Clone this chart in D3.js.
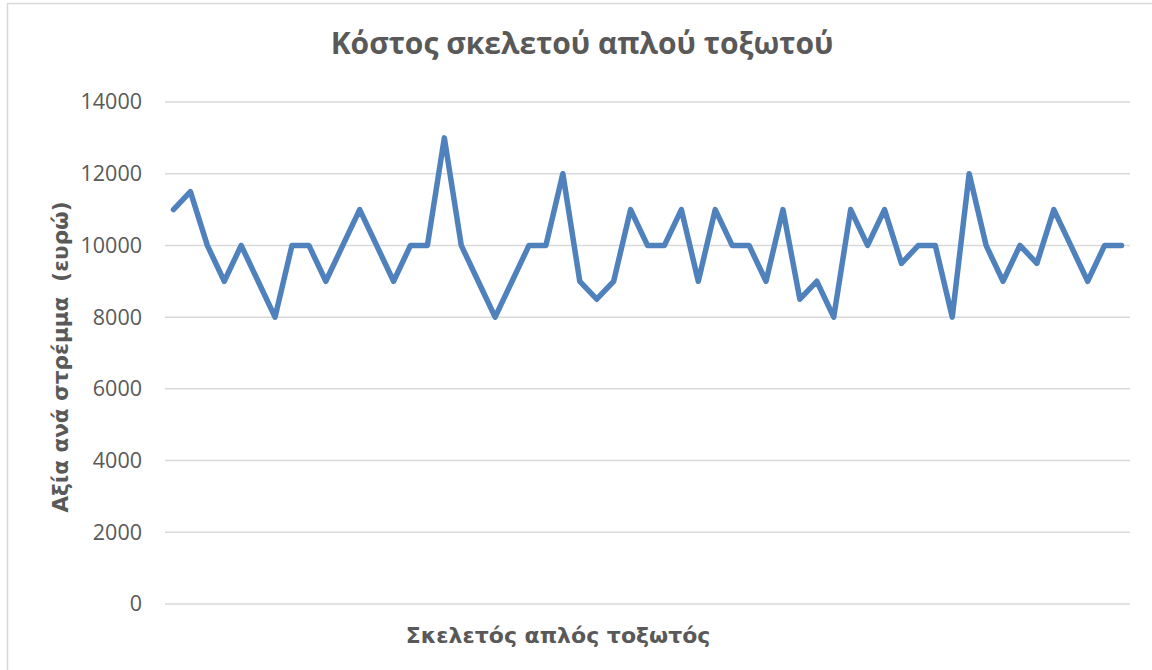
<!DOCTYPE html>
<html>
<head>
<meta charset="utf-8">
<script src="https://cdn.jsdelivr.net/npm/d3@7"></script>
<style>
  html, body { margin: 0; padding: 0; background: #fff; }
  svg { display: block; }
</style>
</head>
<body>
<svg id="chart" width="1152" height="670"></svg>
<script>
// Cost per stremma for each simple arched frame
const values = [
  11000, 11500, 10000, 9000, 10000, 9000, 8000, 10000, 10000, 9000,
  10000, 11000, 10000, 9000, 10000, 10000, 13000, 10000, 9000, 8000,
  9000, 10000, 10000, 12000, 9000, 8500, 9000, 11000, 10000, 10000,
  11000, 9000, 11000, 10000, 10000, 9000, 11000, 8500, 9000, 8000,
  11000, 10000, 11000, 9500, 10000, 10000, 8000, 12000, 10000, 9000,
  10000, 9500, 11000, 10000, 9000, 10000, 10000
];
const categories = values.map((_, i) => i + 1);
const yTicks = [0, 2000, 4000, 6000, 8000, 10000, 12000, 14000];

const titleText = "Κόστος σκελετού απλού τοξωτού";
const xTitleText = "Σκελετός απλός τοξωτός";
const yTitleText = "Αξία ανά στρέμμα\u00a0\u00a0(ευρώ)";

const svg = d3.select("#chart");
const W = 1152, H = 670;
const plot = { left: 165, right: 1130, top: 102, bottom: 604 };

// chart frame
svg.append("rect")
  .attr("x", 7.5).attr("y", 3.5)
  .attr("width", W + 20).attr("height", H + 20)
  .attr("fill", "#fff")
  .attr("stroke", "#d9d9d9").attr("stroke-width", 1.5);

const x = d3.scaleBand()
  .domain(categories)
  .range([plot.left, plot.right]);

const y = d3.scaleLinear()
  .domain([0, 14000])
  .range([plot.bottom, plot.top]);

// horizontal gridlines
svg.append("g")
  .selectAll("line")
  .data(yTicks)
  .join("line")
  .attr("x1", plot.left).attr("x2", plot.right)
  .attr("y1", d => y(d)).attr("y2", d => y(d))
  .attr("stroke", "#d9d9d9").attr("stroke-width", 1.5);

// value axis labels
const yAxis = d3.axisLeft(y).tickValues(yTicks).tickSize(0).tickPadding(0)
  .tickFormat(d3.format("d"));
svg.append("g")
  .attr("transform", `translate(142,0)`)
  .call(yAxis)
  .call(g => g.select(".domain").remove())
  .call(g => g.selectAll("text")
    .attr("fill", "#595959")
    .attr("font-family", "'Open Sans', sans-serif")
    .attr("font-size", 21.5));

// data line
const line = d3.line()
  .x((d, i) => x(categories[i]) + x.bandwidth() / 2)
  .y(d => y(d));

svg.append("path")
  .datum(values)
  .attr("d", line)
  .attr("fill", "none")
  .attr("stroke", "#4f81bd")
  .attr("stroke-width", 5.5)
  .attr("stroke-linejoin", "round")
  .attr("stroke-linecap", "round");

// titles
svg.append("text")
  .attr("x", 582).attr("y", 54)
  .attr("text-anchor", "middle")
  .attr("fill", "#595959")
  .attr("font-family", "'Open Sans', sans-serif")
  .attr("font-weight", "bold")
  .attr("font-size", 30)
  .text(titleText);

svg.append("text")
  .attr("x", 558).attr("y", 643)
  .attr("text-anchor", "middle")
  .attr("fill", "#595959")
  .attr("font-family", "'DejaVu Sans', sans-serif")
  .attr("font-weight", "bold")
  .attr("font-size", 22)
  .text(xTitleText);

svg.append("text")
  .attr("transform", "translate(68,357) rotate(-90)")
  .attr("text-anchor", "middle")
  .attr("fill", "#595959")
  .attr("font-family", "'DejaVu Sans', sans-serif")
  .attr("font-weight", "bold")
  .attr("font-size", 21.5)
  .text(yTitleText);
</script>
</body>
</html>
